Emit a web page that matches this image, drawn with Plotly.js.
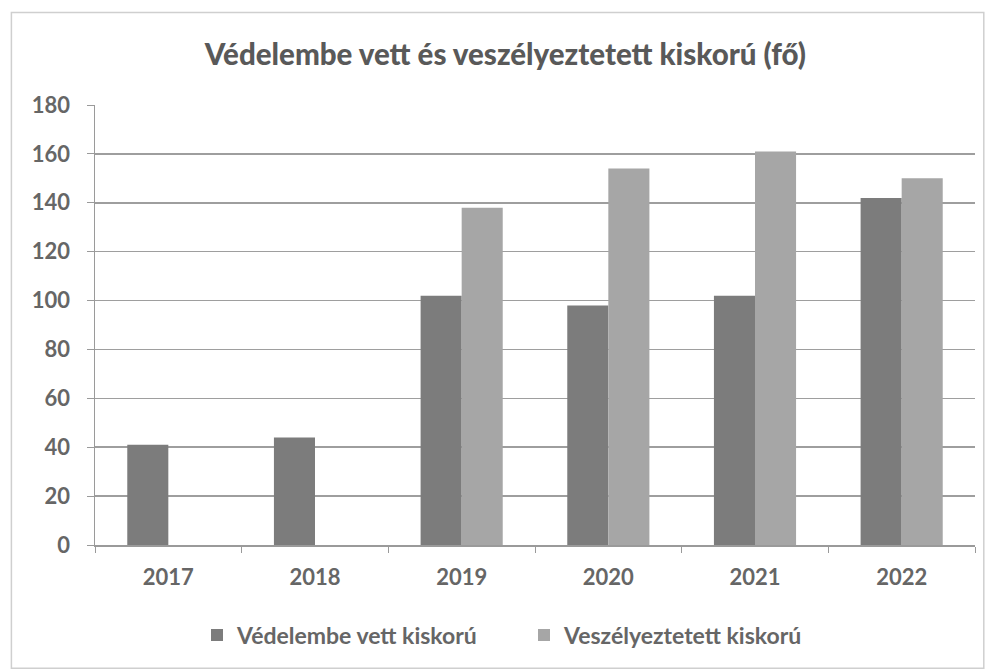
<!DOCTYPE html>
<html>
<head>
<meta charset="utf-8">
<script src="https://cdn.plot.ly/plotly-3.0.1.min.js"></script>
<style>
  body { margin: 0; background: #fff; }
  #chart { width: 991px; height: 669px; }
</style>
</head>
<body>
<div id="chart"></div>
<script>
var years = ['2017', '2018', '2019', '2020', '2021', '2022'];
var vedelembe = [41, 44, 102, 98, 102, 142];
var veszelyeztetett = [null, null, 138, 154, 161, 150];

var trace1 = {
  x: years,
  y: vedelembe,
  name: 'Védelembe vett kiskorú',
  type: 'bar',
  marker: { color: '#7c7c7c' }
};
var trace2 = {
  x: years,
  y: veszelyeztetett,
  name: 'Veszélyeztetett kiskorú',
  type: 'bar',
  marker: { color: '#a6a6a6' }
};

var layout = {
  width: 991,
  height: 669,
  autosize: false,
  barmode: 'group',
  bargap: 0.44,
  bargroupgap: 0,
  paper_bgcolor: '#ffffff',
  plot_bgcolor: '#ffffff',
  font: { family: 'Lato, "Open Sans", sans-serif', color: '#5a5a5a', size: 19 },
  margin: { l: 95, r: 16, t: 105, b: 124, autoexpand: false },
  title: {
    text: 'Védelembe vett és veszélyeztetett kiskorú (fő)',
    font: { family: 'Lato, sans-serif', size: 29.5, weight: 900, color: '#595959' },
    x: 0.51,
    xanchor: 'center',
    y: 0.918,
    yanchor: 'middle'
  },
  xaxis: {
    type: 'category',
    automargin: false,
    showgrid: false,
    showline: true,
    linecolor: '#9a9a9a',
    linewidth: 1.5,
    ticks: 'outside',
    tickson: 'boundaries',
    ticklen: 6,
    tickcolor: '#9a9a9a',
    ticklabelstandoff: 12,
    tickfont: { size: 22, weight: 'bold', color: '#666666' },
    zeroline: false
  },
  yaxis: {
    range: [0, 180],
    dtick: 20,
    automargin: false,
    showgrid: true,
    gridcolor: '#9e9e9e',
    gridwidth: 1.5,
    showline: true,
    linecolor: '#9a9a9a',
    linewidth: 1.5,
    ticks: 'outside',
    ticklen: 7,
    tickcolor: '#9a9a9a',
    ticklabelstandoff: 12,
    tickfont: { size: 22, weight: 'bold', color: '#666666' },
    zeroline: false
  },
  legend: {
    orientation: 'h',
    x: 0.4875,
    xanchor: 'center',
    y: -0.156,
    yanchor: 'top',
    font: { size: 23, weight: 'bold', color: '#666666' },
    itemwidth: 30,
    entrywidth: 282
  },
  shapes: [
    {
      type: 'rect',
      xref: 'paper',
      yref: 'paper',
      x0: -0.095,
      x1: 1.01,
      y0: -0.28,
      y1: 1.21,
      line: { color: '#cfcfcf', width: 1.5 }
    }
  ]
};

Plotly.newPlot('chart', [trace1, trace2], layout, { displayModeBar: false, staticPlot: true });
</script>
</body>
</html>
